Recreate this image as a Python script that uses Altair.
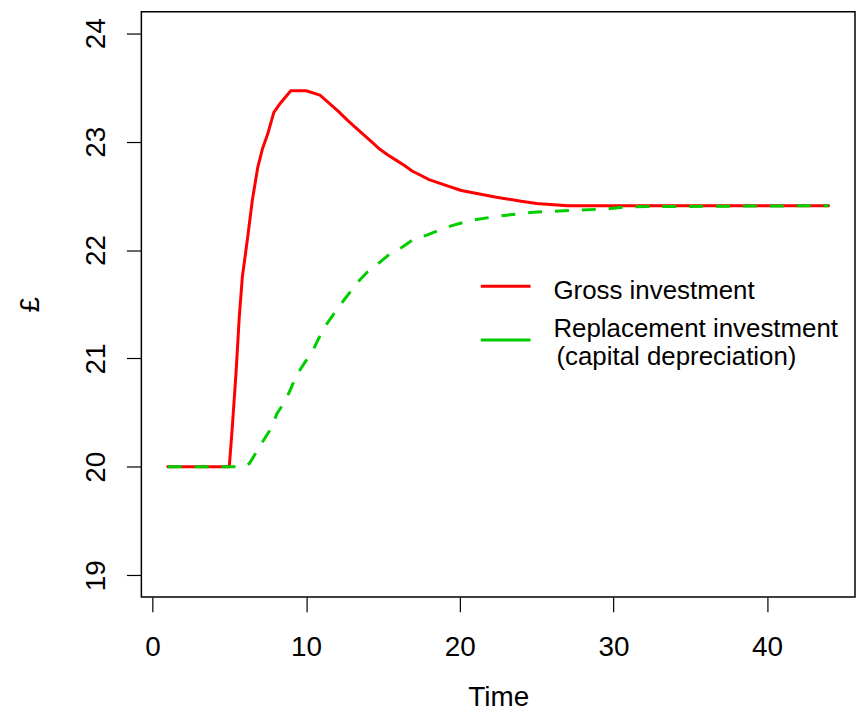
import altair as alt
import pandas as pd

# ---- data ----
gross_t = [1, 5, 5.2, 5.45, 5.65, 5.85, 6.2, 6.5, 6.85, 7.15, 7.5, 7.9, 8.35, 9, 10,
           10.9, 11.55, 12.1, 12.6, 13.15, 13.7, 14.25, 14.8, 15.3, 15.85, 16.4, 16.9,
           17.45, 18, 19.05, 20.1, 21.2, 22.3, 24, 25, 27, 31, 44]
gross_v = [20, 20, 20.37, 20.89, 21.38, 21.75, 22.12, 22.46, 22.76, 22.93, 23.07, 23.27,
           23.36, 23.47, 23.47, 23.43, 23.35, 23.28, 23.21, 23.14, 23.07, 23.00, 22.93,
           22.88, 22.83, 22.78, 22.73, 22.69, 22.65, 22.60, 22.55, 22.52, 22.49, 22.45,
           22.43, 22.41, 22.41, 22.41]

repl_t = [1, 6, 6.3, 6.7, 7.25, 7.7, 8.1, 8.65, 9.0, 9.4, 9.95, 10.4, 10.8, 11.2, 11.75,
          12.2, 12.85, 13.4, 14.0, 14.65, 15.5, 16.3, 17.0, 17.9, 18.75, 19.6, 20.6,
          21.9, 22.9, 24.8, 27.9, 29.6, 31, 44]
repl_v = [20, 20, 20.03, 20.12, 20.25, 20.35, 20.49, 20.61, 20.72, 20.85, 20.97, 21.06,
          21.18, 21.29, 21.40, 21.49, 21.61, 21.71, 21.80, 21.87, 21.97, 22.03, 22.10,
          22.14, 22.19, 22.23, 22.27, 22.30, 22.32, 22.35, 22.37, 22.38, 22.40, 22.41]

series_names = ["Gross investment", "Replacement investment"]
legend_extra_line = "(capital depreciation)"
series_colors = ["#FF0000", "#00CD00"]
x_ticks = [0, 10, 20, 30, 40]
y_ticks = [19, 20, 21, 22, 23, 24]

gross_df = pd.DataFrame({"t": gross_t, "v": gross_v, "series": series_names[0]})
repl_df = pd.DataFrame({"t": repl_t, "v": repl_v, "series": series_names[1]})

FONT = "Liberation Sans"

x_enc = alt.X(
    "t:Q",
    scale=alt.Scale(domain=[-0.72, 45.72], nice=False, zero=False),
    axis=alt.Axis(
        values=x_ticks, title="Time", grid=False, domain=False,
        tickSize=15, tickWidth=1.2, tickColor="black",
        labelFontSize=28, labelFont=FONT, labelColor="black", labelPadding=22,
        labelFlush=False,
        titleFontSize=28, titleFont=FONT, titleFontWeight="normal", titleColor="black",
        titleBaseline="alphabetic", titleY=109, titleX=358.5, titleAlign="center",
    ),
)
y_enc = alt.Y(
    "v:Q",
    scale=alt.Scale(domain=[18.8, 24.2], nice=False, zero=False),
    axis=alt.Axis(
        values=y_ticks, title="£", grid=False, domain=False,
        tickSize=15, tickWidth=1.2, tickColor="black",
        labelFontSize=28, labelFont=FONT, labelColor="black", labelPadding=16,
        labelAngle=270, labelAlign="center", labelBaseline="bottom",
        labelFlush=False,
        titleFontSize=28, titleFont=FONT, titleFontWeight="normal", titleColor="black",
        titleAngle=270, titleX=-111, titleY=294, titleAlign="center",
        titleBaseline="middle",
    ),
)

color_enc = alt.Color(
    "series:N",
    scale=alt.Scale(domain=series_names, range=series_colors),
    legend=None,
)

gross = alt.Chart(gross_df).mark_line(
    strokeWidth=3, strokeCap="round", strokeJoin="round"
).encode(x=x_enc, y=y_enc, color=color_enc)

repl = alt.Chart(repl_df).mark_line(
    strokeWidth=3, strokeDash=[14, 13], strokeCap="butt"
).encode(x=x_enc, y=y_enc, color=color_enc)

# ---- legend (drawn in the plot's pixel frame, like R's legend box) ----
leg_df = pd.DataFrame({"label": series_names, "extra": ["", legend_extra_line]})


def leg_rule(i, ypx):
    return alt.Chart(leg_df.iloc[[i]]).mark_rule(
        color=series_colors[i], strokeWidth=3
    ).encode(x=alt.value(341), x2=alt.value(391), y=alt.value(ypx))


def leg_text(i, field, xpx, ypx):
    return alt.Chart(leg_df.iloc[[i]]).mark_text(
        align="left", baseline="alphabetic", fontSize=26, font=FONT, color="black"
    ).encode(x=alt.value(xpx), y=alt.value(ypx), text=f"{field}:N")


legend_layers = [
    leg_rule(0, 276),
    leg_rule(1, 330),
    leg_text(0, "label", 414, 289),
    leg_text(1, "label", 414, 327),
    leg_text(1, "extra", 417, 355),
]

chart = alt.layer(gross, repl, *legend_layers).properties(
    width=717, height=588,
    autosize=alt.AutoSizeParams(type="none"),
    padding={"left": 134, "top": 2, "right": 1, "bottom": 114},
    background="white",
).configure_view(
    stroke="black", strokeWidth=1.5
)

chart.save("out.html", embed_options={"renderer": "svg", "actions": False})
